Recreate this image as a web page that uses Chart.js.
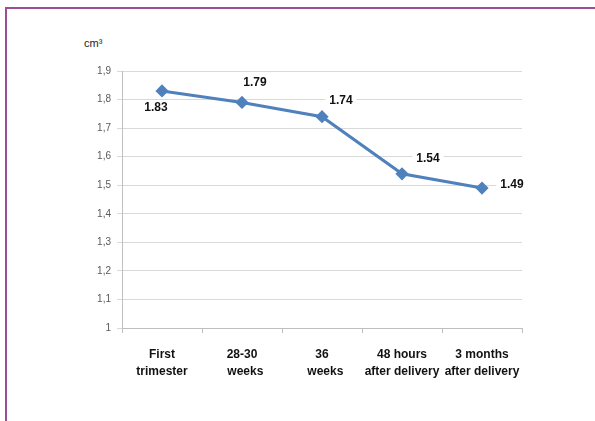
<!DOCTYPE html>
<html>
<head>
<meta charset="utf-8">
<script src="https://cdn.jsdelivr.net/npm/chart.js@4/dist/chart.umd.min.js"></script>
<style>
  html, body { margin: 0; padding: 0; background: #fff; }
  #wrap { position: relative; width: 595px; height: 421px; }
  #frame { position: absolute; left: 5px; top: 7px; width: 600px; height: 430px;
           border-left: 2px solid #9b4d9b; border-top: 2px solid #9b4d9b; }
  #unit { position: absolute; left: 84px; top: 37px; font: 11px "Liberation Sans", Arial, sans-serif; color: #222; }
  canvas { position: absolute; left: 0; top: 0; }
</style>
</head>
<body>
<div id="wrap">
  <div id="frame"></div>
  <div id="unit">cm³</div>
  <canvas id="chart" width="595" height="421"></canvas>
</div>
<script>
// categories and values
const categories = [
  ['First', 'trimester'],
  ['28-30', '  weeks'],
  ['36', '  weeks'],
  ['48 hours', 'after delivery'],
  ['3 months', 'after delivery']
];
const volumes = [1.83, 1.79, 1.74, 1.54, 1.49];
const valueLabels = ['1.83', '1.79', '1.74', '1.54', '1.49'];

// where each value label sits relative to its point (px)
const labelOffsets = [[-6, 17], [13, -20], [19, -16], [26, -15], [30, -3]];

const lineColor = '#4f81bd';

const valueLabelPlugin = {
  id: 'valueLabels',
  afterDatasetsDraw(chart) {
    const ctx = chart.ctx;
    const meta = chart.getDatasetMeta(0);
    ctx.save();
    ctx.font = 'bold 12px "Liberation Sans", Arial, sans-serif';
    ctx.textAlign = 'center';
    ctx.textBaseline = 'middle';
    meta.data.forEach((pt, i) => {
      const x = pt.x + labelOffsets[i][0];
      const y = pt.y + labelOffsets[i][1];
      const w = ctx.measureText(valueLabels[i]).width + 8;
      ctx.fillStyle = '#fff';
      ctx.fillRect(x - w / 2, y - 8, w, 16);
      ctx.fillStyle = '#111';
      ctx.fillText(valueLabels[i], x, y);
    });
    ctx.restore();
  }
};

new Chart(document.getElementById('chart'), {
  type: 'line',
  data: {
    labels: categories,
    datasets: [{
      data: volumes,
      borderColor: lineColor,
      backgroundColor: lineColor,
      borderWidth: 3,
      pointStyle: 'rectRot',
      pointRadius: 4.5,
      pointBackgroundColor: lineColor,
      pointBorderColor: lineColor,
      tension: 0
    }]
  },
  options: {
    responsive: false,
    animation: false,
    layout: { padding: { left: 0, right: 73, top: 71, bottom: 0 } },
    plugins: {
      legend: { display: false },
      tooltip: { enabled: false }
    },
    scales: {
      x: {
        offset: true,
        afterFit: s => { s.height = 93; },
        grid: { offset: true, drawOnChartArea: false, drawTicks: true, tickLength: 5, color: '#bfbfbf' },
        border: { color: '#bfbfbf', width: 1 },
        ticks: {
          color: '#111',
          padding: 14,
          maxRotation: 0,
          autoSkip: false,
          font: { family: '"Liberation Sans", Arial, sans-serif', size: 12, weight: 'bold', lineHeight: 1.35 }
        }
      },
      y: {
        min: 1,
        max: 1.9,
        afterFit: s => { s.width = 122; },
        grid: { color: '#d9d9d9', tickLength: 5, lineWidth: 1 },
        border: { color: '#bfbfbf', width: 1 },
        ticks: {
          stepSize: 0.1,
          color: '#595959',
          padding: 6,
          font: { family: '"Liberation Sans", Arial, sans-serif', size: 10 },
          callback: v => (Math.abs(v - Math.round(v)) < 1e-6 ? String(Math.round(v)) : v.toFixed(1).replace('.', ','))
        }
      }
    }
  },
  plugins: [valueLabelPlugin]
});
</script>
</body>
</html>
